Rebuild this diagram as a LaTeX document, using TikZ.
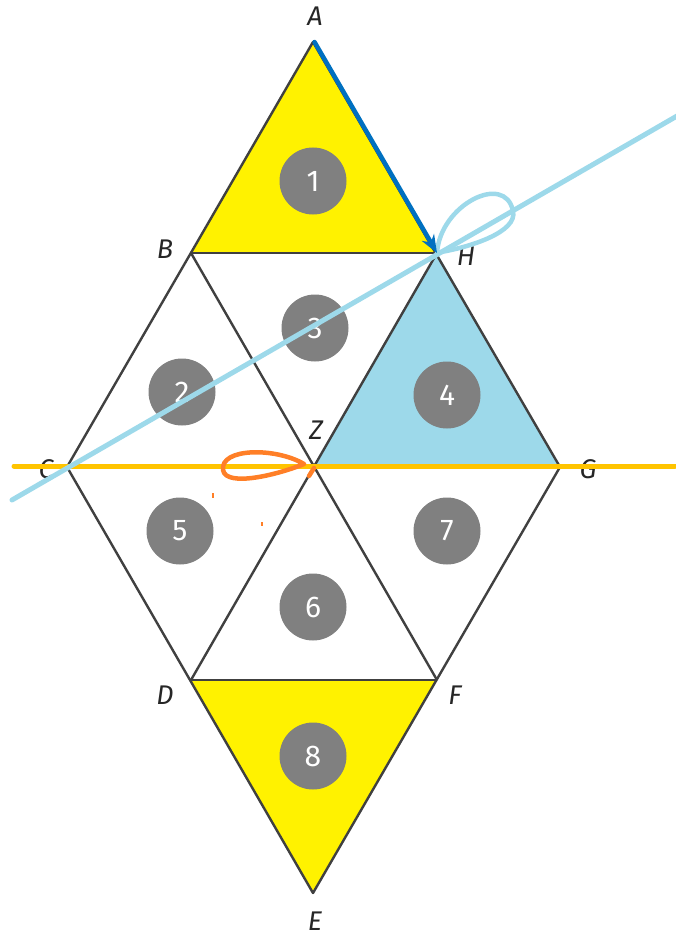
\documentclass[tikz,border=0pt]{standalone}
\usepackage{fontspec}
\newfontfamily\lblfont{Fira Sans}
\usetikzlibrary{arrows.meta}
\definecolor{tyellow}{RGB}{255,242,0}
\definecolor{tlblue}{RGB}{157,217,234}
\definecolor{tgray}{RGB}{128,128,128}
\definecolor{tedge}{RGB}{64,64,64}
\definecolor{tgold}{RGB}{255,196,0}
\definecolor{torange}{RGB}{255,127,39}
\definecolor{tdblue}{RGB}{0,112,192}
\tikzset{
  edge/.style={draw=tedge,line width=2.4pt},
  numcirc/.style={circle,fill=tgray,minimum size=67pt,inner sep=0pt,text=white,font=\lblfont\fontsize{30}{30}\selectfont},
  vlabel/.style={font=\lblfont\itshape\fontsize{27}{27}\selectfont,text=black!85,inner sep=0pt},
  goldline/.style={draw=tgold,line width=5pt,line cap=round},
  blueline/.style={draw=tlblue,line width=5pt,line cap=round},
  orangeink/.style={draw=torange,line width=4.5pt,line cap=round,line join=round},
}
\begin{document}
\begin{tikzpicture}[x=1pt,y=-1pt]
\useasboundingbox (0,0) rectangle (675,936);
% vertices
\coordinate (A) at (313,42);
\coordinate (B) at (191,253);
\coordinate (H) at (437,253);
\coordinate (C) at (67,467);
\coordinate (Z) at (313,467);
\coordinate (G) at (560,467);
\coordinate (D) at (191,680);
\coordinate (F) at (437,680);
\coordinate (E) at (313,893);
% fills
\fill[tyellow] (A) -- (B) -- (H) -- cycle;
\fill[tlblue] (H) -- (Z) -- (G) -- cycle;
\fill[tyellow] (D) -- (F) -- (E) -- cycle;
% edges
\draw[edge,line join=round] (A) -- (C) -- (E) -- (G) -- cycle;
\draw[edge] (B) -- (H);
\draw[edge] (D) -- (F);
\draw[edge] (C) -- (G);
\draw[edge] (B) -- (F);
\draw[edge] (H) -- (D);
% numbered circles
\node[numcirc] (n1) at (313,181) {1};
\node[numcirc] (n2) at (182,392) {2};
\node[numcirc] (n3) at (315,328) {3};
\node[numcirc] (n4) at (447,395) {4};
\node[numcirc] (n5) at (180,531) {5};
\node[numcirc] (n6) at (313,607) {6};
\node[numcirc] (n7) at (447,531) {7};
\node[numcirc] (n8) at (313,756) {8};
% vertex labels
\node[vlabel] (lA) at (315,16) {A};
\node[vlabel] (lB) at (165,249) {B};
\node[vlabel] (lH) at (466,256) {H};
\node[vlabel] (lC) at (46,469) {C};
\node[vlabel] (lZ) at (316,430) {Z};
\node[vlabel] (lG) at (588,469) {G};
\node[vlabel] (lD) at (165,695) {D};
\node[vlabel] (lF) at (455,695) {F};
\node[vlabel] (lE) at (315,921) {E};
% gold horizontal line
\coordinate (g1) at (14,466);
\coordinate (g2) at (675,466);
\draw[goldline] (g1) -- (g2);
% light blue line with loop
\coordinate (b1) at (12,500);
\coordinate (b2) at (677,116);
\draw[blueline] (b1) -- (b2);
\coordinate (lp1) at (513,211);
\draw[draw=tlblue,line width=4.5pt,line cap=round]
  (H) .. controls (440,205) and (505,172) .. (lp1)
      .. controls (518,232) and (470,247) .. (441,252);
% orange loop near Z
\coordinate (op) at (304,464);
\coordinate (ol) at (223,470);
\draw[orangeink] (op) .. controls (275,447) and (220,448) .. (ol)
   .. controls (226,488) and (280,474) .. (op);
\coordinate (om1) at (309,476);
\coordinate (om2) at (314,468);
\draw[orangeink] (om1) -- (om2);
\coordinate (od1) at (213,493);
\coordinate (od2) at (213,498);
\draw[draw=torange,line width=2pt] (od1) -- (od2);
\coordinate (od3) at (262,522);
\coordinate (od4) at (262,526);
\draw[draw=torange,line width=2pt] (od3) -- (od4);
% dark blue arrow A -> H
\draw[draw=tdblue,line width=4.5pt,line cap=round,-{Stealth[length=18pt,width=14pt]}] ([xshift=1.5pt]A) -- (H);
\end{tikzpicture}
\end{document}
